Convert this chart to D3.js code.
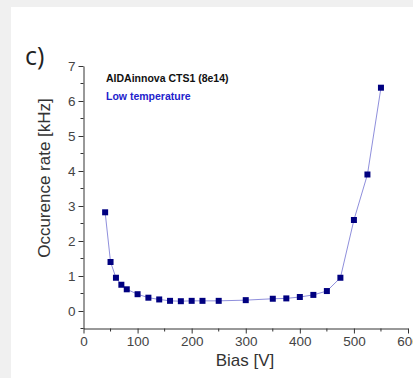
<!DOCTYPE html>
<html>
<head>
<meta charset="utf-8">
<script src="https://cdn.jsdelivr.net/npm/d3@7"></script>
<style>
  html, body { margin: 0; padding: 0; background: #f0f0f0; }
  svg { display: block; }
</style>
</head>
<body>
<svg id="chart" width="413" height="378"></svg>
<script>
// Occurrence rate vs. bias voltage
const biasVolts = [40, 50, 60, 70, 80, 100, 120, 140, 160, 180, 200, 220, 250, 300, 350, 375, 400, 425, 450, 475, 500, 525, 550];
const rateKHz   = [2.82, 1.40, 0.95, 0.75, 0.62, 0.48, 0.38, 0.33, 0.29, 0.28, 0.29, 0.29, 0.29, 0.31, 0.35, 0.36, 0.40, 0.46, 0.57, 0.95, 2.60, 3.90, 6.38];
const xTicks = [0, 100, 200, 300, 400, 500, 600];
const yTicks = [0, 1, 2, 3, 4, 5, 6, 7];
const xMinor = [50, 150, 250, 350, 450, 550];
const yMinor = [-0.5, 0.5, 1.5, 2.5, 3.5, 4.5, 5.5, 6.5];

const svg = d3.select("#chart");

// white page area
svg.append("rect").attr("x", 11).attr("y", 7).attr("width", 402).attr("height", 371).attr("fill", "#ffffff");

const x = d3.scaleLinear().domain([0, 600]).range([83.5, 408]);
const y = d3.scaleLinear().domain([-0.5, 7]).range([328.5, 66]);

const axisColor = "#333";
const tickFont = "Liberation Sans, Arial, sans-serif";

// x axis
const gx = svg.append("g").attr("transform", `translate(0,${y(-0.5)})`)
  .call(d3.axisBottom(x).tickValues(xTicks).tickSize(5).tickPadding(3).tickSizeOuter(0));
gx.append("g").selectAll("line").data(xMinor).join("line")
  .attr("x1", d => x(d)).attr("x2", d => x(d)).attr("y1", 0).attr("y2", 3)
  .attr("stroke", axisColor);

// y axis
const gy = svg.append("g").attr("transform", `translate(${x(0)},0)`)
  .call(d3.axisLeft(y).tickValues(yTicks).tickSize(5).tickPadding(3).tickSizeOuter(0));
gy.append("g").selectAll("line").data(yMinor).join("line")
  .attr("y1", d => y(d)).attr("y2", d => y(d)).attr("x1", 0).attr("x2", -3)
  .attr("stroke", axisColor);

[gx, gy].forEach(g => {
  g.select(".domain").attr("stroke", axisColor);
  g.selectAll(".tick line").attr("stroke", axisColor);
  g.selectAll(".tick text").attr("fill", "#444").attr("font-size", 13.5).attr("font-family", tickFont);
});

// connecting line
svg.append("path")
  .datum(biasVolts.map((v, i) => [v, rateKHz[i]]))
  .attr("fill", "none")
  .attr("stroke", "#8f8fdc")
  .attr("stroke-width", 1)
  .attr("d", d3.line().x(d => x(d[0])).y(d => y(d[1])));

// square markers
const ms = 6;
svg.append("g").selectAll("rect").data(biasVolts.map((v, i) => [v, rateKHz[i]])).join("rect")
  .attr("x", d => x(d[0]) - ms / 2).attr("y", d => y(d[1]) - ms / 2)
  .attr("width", ms).attr("height", ms)
  .attr("fill", "#000080");

// axis titles
svg.append("text").attr("x", 245).attr("y", 366).attr("text-anchor", "middle")
  .attr("font-family", tickFont).attr("font-size", 17).attr("fill", "#333")
  .text("Bias [V]");
svg.append("text").attr("transform", "translate(50,178) rotate(-90)").attr("text-anchor", "middle")
  .attr("font-family", tickFont).attr("font-size", 17).attr("fill", "#333")
  .text("Occurence rate [kHz]");

// panel label
svg.append("text").attr("x", 25).attr("y", 65)
  .attr("font-family", "Open Sans, Liberation Sans, sans-serif").attr("font-size", 25).attr("fill", "#222")
  .text("c)");

// legend text
svg.append("text").attr("x", 106).attr("y", 82)
  .attr("font-family", tickFont).attr("font-size", 10.5).attr("font-weight", "bold").attr("fill", "#111")
  .text("AIDAinnova CTS1 (8e14)");
svg.append("text").attr("x", 106).attr("y", 100)
  .attr("font-family", tickFont).attr("font-size", 10.5).attr("font-weight", "bold").attr("fill", "#2222cc")
  .text("Low temperature");
</script>
</body>
</html>
